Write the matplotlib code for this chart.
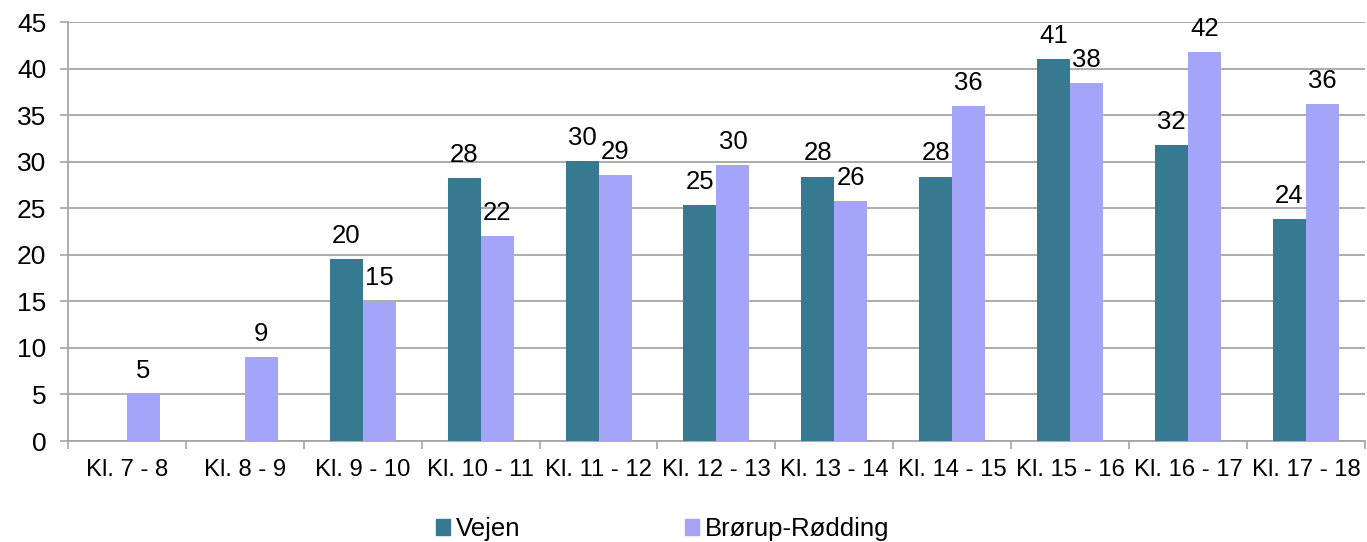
import matplotlib
matplotlib.use('Agg')
import matplotlib.pyplot as plt
from matplotlib.patches import Patch
import numpy as np

# --- Data ---
categories = ["Kl. 7 - 8", "Kl. 8 - 9", "Kl. 9 - 10", "Kl. 10 - 11", "Kl. 11 - 12",
              "Kl. 12 - 13", "Kl. 13 - 14", "Kl. 14 - 15", "Kl. 15 - 16",
              "Kl. 16 - 17", "Kl. 17 - 18"]
vejen = [np.nan, np.nan, 19.5, 28.2, 30.1, 25.3, 28.4, 28.4, 41.0, 31.8, 23.8]
brorup = [5.0, 9.0, 15.0, 22.0, 28.6, 29.6, 25.8, 36.0, 38.4, 41.8, 36.2]
series_names = ["Vejen", "Brørup-Rødding"]

# Colors
TEAL = "#367991"
LAVENDER = "#a4a4f8"
GRID = "#a6a6a6"

plt.rcParams['font.family'] = ['Liberation Sans', 'DejaVu Sans']

fig = plt.figure(figsize=(13.67, 5.42), dpi=100)
ax = fig.add_axes([0.0497, 0.1863, 0.9488, 0.7731])

x = np.arange(len(categories))
w = 0.28

b1 = ax.bar(x - w / 2, vejen, width=w, color=TEAL, zorder=3)
b2 = ax.bar(x + w / 2, brorup, width=w, color=LAVENDER, zorder=3)

# Data labels (rounded integers above bars)
for bars, vals in ((b1, vejen), (b2, brorup)):
    for rect, v in zip(bars, vals):
        if np.isnan(v):
            continue
        ax.annotate(f"{v:.0f}", (rect.get_x() + rect.get_width() / 2, v),
                    xytext=(0, 8), textcoords='offset points',
                    ha='center', va='bottom', fontsize=18.5, color='black')

# Axes limits and ticks
ax.set_xlim(-0.5, len(categories) - 0.5)
ax.set_ylim(0, 45)
ax.set_yticks(np.arange(0, 46, 5))
ax.tick_params(axis='y', labelsize=19, length=5.5, width=1.2, color=GRID, pad=10)

ax.set_xticks(x)
ax.set_xticklabels(categories)
ax.tick_params(axis='x', which='major', labelsize=17.2, length=0, pad=13)
ax.set_xticks(np.arange(-0.5, len(categories), 1.0), minor=True)
ax.tick_params(axis='x', which='minor', length=5.5, width=1.2, color=GRID)

# Gridlines
ax.yaxis.grid(True, color=GRID, linewidth=1.3, zorder=0)
ax.set_axisbelow(True)

for side in ('top', 'right'):
    ax.spines[side].set_visible(False)
ax.spines['left'].set_color(GRID)
ax.spines['left'].set_linewidth(1.3)
ax.spines['bottom'].set_color(GRID)
ax.spines['bottom'].set_linewidth(1.3)

# Legend
handles = [Patch(color=TEAL), Patch(color=LAVENDER)]
fig.legend(handles, series_names, loc='center', bbox_to_anchor=(0.485, 0.024),
           ncol=2, frameon=False, fontsize=18.5, handlelength=0.55, handleheight=0.55,
           handletextpad=0.23, columnspacing=6.4, borderaxespad=0, borderpad=0)

fig.savefig("out.png", dpi=100)
